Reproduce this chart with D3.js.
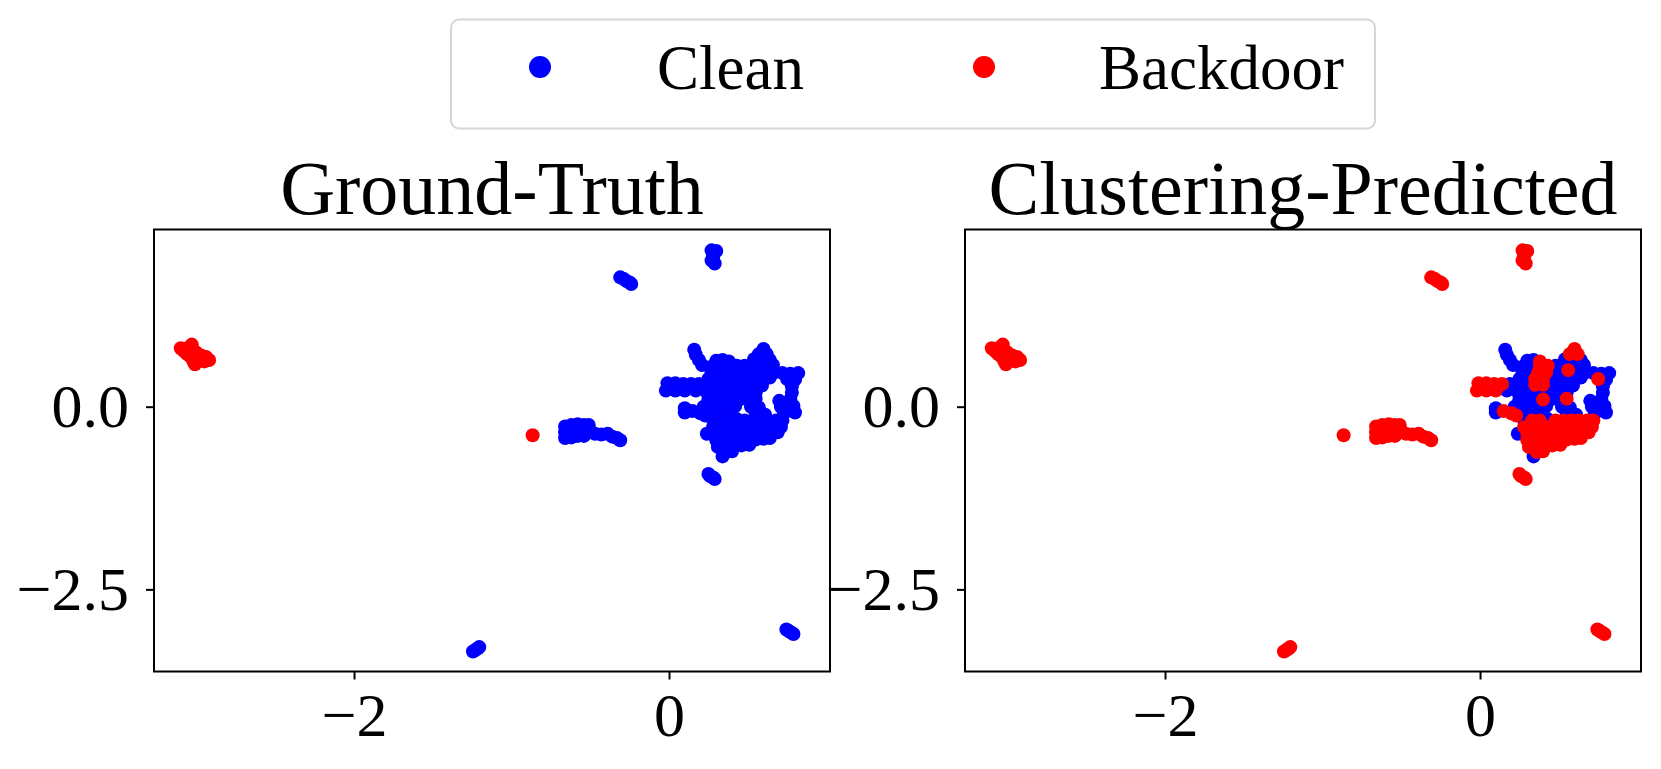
<!DOCTYPE html>
<html>
<head>
<meta charset="utf-8">
<script src="https://cdn.jsdelivr.net/npm/d3@7"></script>
<style>
  body { margin: 0; background: #fff; }
  svg { display: block; font-family: "Liberation Serif", "Times New Roman", serif; }
</style>
</head>
<body>
<svg id="chart" width="1661" height="769"></svg>
<script>
var seriesNames = ['Clean', 'Backdoor'];
var seriesColors = ['#0000ff', '#ff0000'];
var panelTitles = ['Ground-Truth', 'Clustering-Predicted'];
var xTicks = [-2, 0];
var yTicks = [0, -2.5];
var xDomain = [-3.27, 1.022];
var yDomain = [-3.624, 2.425];

// poisoned samples, all grouped into the backdoor cluster
var backdoorIsland = [
  [-3.10, 0.80], [-3.08, 0.76], [-3.06, 0.72], [-3.04, 0.69], [-3.02, 0.66],
  [-3.01, 0.58], [-3.03, 0.85], [-3.05, 0.81], [-3.00, 0.74], [-2.97, 0.70],
  [-2.94, 0.68], [-2.92, 0.64], [-2.95, 0.62], [-2.99, 0.62], [-3.02, 0.62]
];
var backdoorStray = [[-0.866, -0.39]];

// clean samples in the small islands (clustered as backdoor)
var cleanIslands = [
  [0.27, 2.14], [0.28, 2.10], [0.28, 2.05], [0.27, 2.00], [0.29, 1.96], [0.30, 2.13],
  [-0.31, 1.77], [-0.29, 1.75], [-0.27, 1.72], [-0.25, 1.70], [-0.24, 1.68],
  [-0.66, -0.27], [-0.66, -0.35], [-0.66, -0.43], [-0.62, -0.25], [-0.62, -0.33],
  [-0.62, -0.42], [-0.58, -0.24], [-0.58, -0.32], [-0.58, -0.40], [-0.54, -0.25],
  [-0.54, -0.33], [-0.54, -0.40], [-0.51, -0.25], [-0.50, -0.33], [-0.47, -0.37],
  [-0.43, -0.38], [-0.39, -0.37], [-0.36, -0.41], [-0.33, -0.43], [-0.31, -0.46],
  [0.25, -0.92], [0.26, -0.95], [0.28, -0.97], [0.29, -0.99],
  [-1.245, -3.35], [-1.23, -3.33], [-1.215, -3.31], [-1.205, -3.29],
  [0.745, -3.05], [0.76, -3.07], [0.775, -3.09], [0.79, -3.11]
];

// clean samples in the main blob, clustered as clean
var cleanCoreToClean = [
  [0.16, 0.78], [0.17, 0.71], [0.19, 0.64], [0.21, 0.57],
  [0.30, 0.63], [0.34, 0.64], [0.54, 0.65], [0.59, 0.66], [0.64, 0.64],
  [0.28, 0.56], [0.33, 0.56], [0.48, 0.56], [0.52, 0.56], [0.57, 0.56], [0.62, 0.56], [0.66, 0.57],
  [0.27, 0.47], [0.32, 0.47], [0.47, 0.47], [0.52, 0.47], [0.57, 0.45], [0.62, 0.47], [0.67, 0.47],
  [0.72, 0.46], [0.77, 0.45], [0.82, 0.46],
  [0.25, 0.38], [0.30, 0.38], [0.45, 0.38], [0.50, 0.38], [0.55, 0.38], [0.60, 0.38], [0.64, 0.40], [0.80, 0.37],
  [0.19, 0.31], [0.25, 0.30], [0.30, 0.30], [0.45, 0.30], [0.50, 0.30], [0.55, 0.30], [0.59, 0.29], [0.78, 0.28],
  [0.17, 0.22], [0.24, 0.20], [0.29, 0.20], [0.34, 0.20], [0.39, 0.20], [0.44, 0.20], [0.49, 0.20], [0.55, 0.19], [0.78, 0.19],
  [0.25, 0.10], [0.30, 0.10], [0.35, 0.10], [0.45, 0.10], [0.50, 0.10], [0.70, 0.08], [0.77, 0.10],
  [0.22, 0.00], [0.27, 0.00], [0.32, 0.00], [0.37, 0.00], [0.42, 0.01], [0.52, 0.00], [0.57, -0.01], [0.71, 0.00], [0.79, 0.01],
  [0.10, -0.02], [0.10, -0.08],
  [0.25, -0.10], [0.30, -0.10], [0.37, -0.10], [0.55, -0.10], [0.61, -0.11], [0.73, -0.09], [0.80, -0.08],
  [0.28, -0.19], [0.43, -0.17],
  [0.24, -0.37], [0.34, -0.68]
];

// clean samples in the main blob, clustered as backdoor
var cleanCoreToBackdoor = [
  [0.60, 0.79], [0.57, 0.72], [0.62, 0.72], [0.38, 0.62],
  [0.38, 0.56], [0.43, 0.56], [0.56, 0.50], [0.37, 0.47], [0.42, 0.47],
  [0.35, 0.38], [0.40, 0.38], [0.75, 0.38],
  [-0.01, 0.32], [0.04, 0.32], [0.09, 0.31], [0.14, 0.31], [0.35, 0.30], [0.40, 0.30],
  [-0.02, 0.22], [0.04, 0.22], [0.10, 0.22],
  [0.40, 0.10], [0.55, 0.11],
  [0.15, -0.06], [0.20, -0.09], [0.23, -0.12],
  [0.33, -0.19], [0.38, -0.19], [0.48, -0.19], [0.53, -0.19], [0.58, -0.19], [0.63, -0.19], [0.68, -0.19], [0.72, -0.19],
  [0.28, -0.28], [0.33, -0.28], [0.38, -0.28], [0.43, -0.28], [0.48, -0.28], [0.53, -0.28], [0.58, -0.28], [0.63, -0.28], [0.68, -0.28], [0.71, -0.28],
  [0.30, -0.37], [0.35, -0.37], [0.40, -0.37], [0.45, -0.37], [0.50, -0.37], [0.55, -0.37], [0.60, -0.37], [0.65, -0.36], [0.69, -0.35],
  [0.30, -0.46], [0.35, -0.46], [0.40, -0.46], [0.45, -0.46], [0.50, -0.46], [0.55, -0.45], [0.60, -0.44], [0.64, -0.43],
  [0.31, -0.55], [0.36, -0.55], [0.41, -0.54], [0.46, -0.53], [0.51, -0.52],
  [0.36, -0.62], [0.40, -0.61]
];

// truth / prediction: 0 = clean, 1 = backdoor
var layers = [
  {pts: cleanCoreToClean, truth: 0, pred: 0},
  {pts: cleanCoreToBackdoor, truth: 0, pred: 1},
  {pts: cleanIslands, truth: 0, pred: 1},
  {pts: backdoorIsland, truth: 1, pred: 1},
  {pts: backdoorStray, truth: 1, pred: 1}
];

var svg = d3.select('#chart');
svg.append('rect').attr('width', 1661).attr('height', 769).attr('fill', '#fff');

var panelW = 676, panelH = 442, panelTop = 229.5;
var panelLefts = [154, 965];

function drawPanel(left, title, key) {
  var x = d3.scaleLinear().domain(xDomain).range([0, panelW]);
  var y = d3.scaleLinear().domain(yDomain).range([panelH, 0]);
  var g = svg.append('g').attr('transform', 'translate(' + left + ',' + panelTop + ')');

  layers.forEach(function(l) {
    g.append('g').selectAll('circle')
      .data(l.pts)
      .enter().append('circle')
        .attr('cx', function(d) { return x(d[0]); })
        .attr('cy', function(d) { return y(d[1]); })
        .attr('r', 7)
        .attr('fill', seriesColors[l[key]]);
  });

  var xAxis = g.append('g')
    .attr('transform', 'translate(0,' + panelH + ')')
    .call(d3.axisBottom(x).tickValues(xTicks).tickFormat(d3.format('d')).tickSize(8).tickPadding(12));
  var yAxis = g.append('g')
    .call(d3.axisLeft(y).tickValues(yTicks).tickFormat(d3.format('.1f')).tickSize(8).tickPadding(17));
  [xAxis, yAxis].forEach(function(a) {
    a.select('.domain').remove();
    a.selectAll('line').attr('stroke', '#000').attr('stroke-width', 2);
    a.selectAll('text').attr('fill', '#000')
      .style('font-family', '"Liberation Serif", "Times New Roman", serif')
      .style('font-size', '62px');
  });

  g.append('rect')
    .attr('width', panelW).attr('height', panelH)
    .attr('fill', 'none').attr('stroke', '#000').attr('stroke-width', 2);

  g.append('text')
    .attr('x', panelW / 2).attr('y', 214 - panelTop)
    .attr('text-anchor', 'middle')
    .style('font-size', '76px')
    .text(title);
}

drawPanel(panelLefts[0], panelTitles[0], 'truth');
drawPanel(panelLefts[1], panelTitles[1], 'pred');

// legend
var legend = svg.append('g');
legend.append('rect')
  .attr('x', 451).attr('y', 19.5).attr('width', 924).attr('height', 109)
  .attr('rx', 8).attr('fill', '#fff').attr('stroke', '#d6d6d6').attr('stroke-width', 2);
var legendDotX = [540, 984];
var legendTextX = [657, 1099];
seriesNames.forEach(function(name, i) {
  legend.append('circle').attr('cx', legendDotX[i]).attr('cy', 67).attr('r', 11).attr('fill', seriesColors[i]);
  legend.append('text').attr('x', legendTextX[i]).attr('y', 89)
    .style('font-size', '63px').text(name);
});
</script>
</body>
</html>
